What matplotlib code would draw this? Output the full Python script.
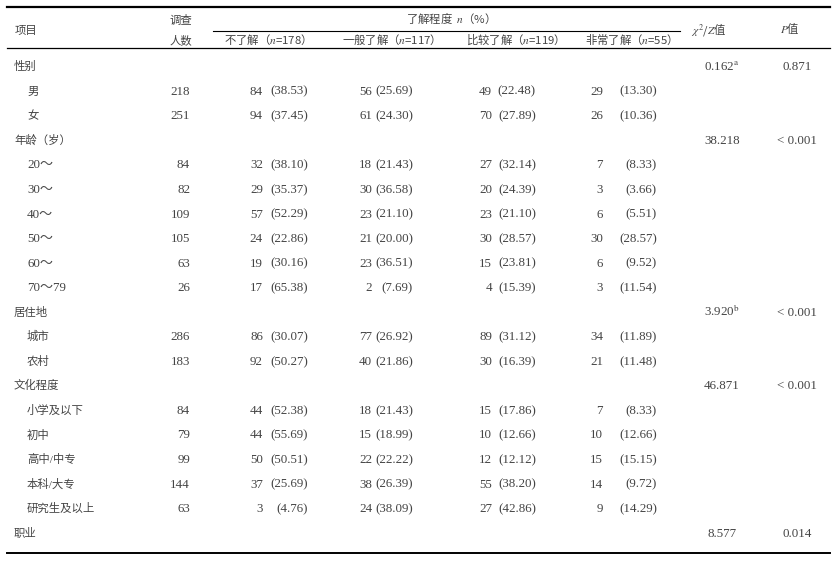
import matplotlib
matplotlib.use("Agg")
import matplotlib.pyplot as plt

plt.rcParams["mathtext.fontset"] = "stix"

CJK = ["Noto Sans CJK SC", "DejaVu Sans"]
NUM = ["Liberation Serif", "Noto Sans CJK SC"]
TXT = "#444444"

# table content
row_labels = ["性别", "男", "女", "年龄（岁）", "20～", "30～", "40～", "50～", "60～", "70～79",
              "居住地", "城市", "农村", "文化程度", "小学及以下", "初中", "高中/中专", "本科/大专",
              "研究生及以上", "职业"]
is_group = [True, False, False, True, False, False, False, False, False, False,
            True, False, False, True, False, False, False, False, False, True]
totals = [None, 218, 251, None, 84, 82, 109, 105, 63, 26, None, 286, 183, None, 84, 79, 99, 144, 63, None]

not_know = [None, 84, 94, None, 32, 29, 57, 24, 19, 17, None, 86, 92, None, 44, 44, 50, 37, 3, None]
not_know_pct = [None, "38.53", "37.45", None, "38.10", "35.37", "52.29", "22.86", "30.16", "65.38",
                None, "30.07", "50.27", None, "52.38", "55.69", "50.51", "25.69", "4.76", None]
general = [None, 56, 61, None, 18, 30, 23, 21, 23, 2, None, 77, 40, None, 18, 15, 22, 38, 24, None]
general_pct = [None, "25.69", "24.30", None, "21.43", "36.58", "21.10", "20.00", "36.51", "7.69",
               None, "26.92", "21.86", None, "21.43", "18.99", "22.22", "26.39", "38.09", None]
fairly = [None, 49, 70, None, 27, 20, 23, 30, 15, 4, None, 89, 30, None, 15, 10, 12, 55, 27, None]
fairly_pct = [None, "22.48", "27.89", None, "32.14", "24.39", "21.10", "28.57", "23.81", "15.39",
              None, "31.12", "16.39", None, "17.86", "12.66", "12.12", "38.20", "42.86", None]
very = [None, 29, 26, None, 7, 3, 6, 30, 6, 3, None, 34, 21, None, 7, 10, 15, 14, 9, None]
very_pct = [None, "13.30", "10.36", None, "8.33", "3.66", "5.51", "28.57", "9.52", "11.54",
            None, "11.89", "11.48", None, "8.33", "12.66", "15.15", "9.72", "14.29", None]
stat = ["0.162$^{\\mathrm{a}}$", None, None, "38.218", None, None, None, None, None, None,
        "3.920$^{\\mathrm{b}}$", None, None, "46.871", None, None, None, None, None, "8.577"]
p_val = ["0.871", None, None, "< 0.001", None, None, None, None, None, None,
         "< 0.001", None, None, "< 0.001", None, None, None, None, None, "0.014"]

sub_heads = ["不了解（$n$=178）", "一般了解（$n$=117）", "比较了解（$n$=119）", "非常了解（$n$=55）"]

W, H = 836, 566
fig = plt.figure(figsize=(W / 100, H / 100), dpi=100)
ax = fig.add_axes([0, 0, 1, 1])
ax.set_xlim(0, W)
ax.set_ylim(H, 0)
ax.axis("off")

fs = 8.2
fn = 9.4
base = 4.2  # baseline offset from row centre, px

# rules
ax.plot([7, 830], [7, 7], color="black", lw=1.6)
ax.plot([213, 680], [31, 31], color="black", lw=0.8)
ax.plot([7, 830], [48, 48], color="black", lw=0.9)
ax.plot([7, 830], [553, 553], color="black", lw=1.4)

def put(x, y, s, size=fn, ha="left", family=NUM):
    ax.text(x, y + base, s, family=family, fontsize=size, color=TXT, va="baseline", ha=ha)

# header
put(15, 30, "项目", fs, family=CJK)
put(181, 20, "调查", fs, "center", CJK)
put(181, 40, "人数", fs, "center", CJK)
put(448, 19, "了解程度  $n$（%）", fs, "center", CJK)
for xc, h in zip([265, 389, 513, 628], sub_heads):
    put(xc, 40, h, fs, "center", CJK)
put(709, 29, "$\\chi^2$/$Z$值", fs, "center", CJK)
put(790, 29, "$P$值", fs, "center", CJK)

# body
y0, dy = 66, 24.55
cols = [(not_know, not_know_pct, 263, 308),
        (general, general_pct, 372, 413),
        (fairly, fairly_pct, 492, 536),
        (very, very_pct, 603, 657)]
for i, lab in enumerate(row_labels):
    y = y0 + i * dy
    put(14 if is_group[i] else 27, y, lab, fn if lab[0].isdigit() else fs)
    if totals[i] is not None:
        put(190, y, str(totals[i]), ha="right")
    for cnt, pct, xc, xp in cols:
        if cnt[i] is None:
            continue
        put(xc, y, str(cnt[i]), ha="right")
        put(xp, y, "(" + pct[i] + ")", ha="right")
    if stat[i] is not None:
        put(722, y, stat[i], ha="center")
        put(797, y, p_val[i], ha="center")

fig.savefig("out.png", dpi=100)
